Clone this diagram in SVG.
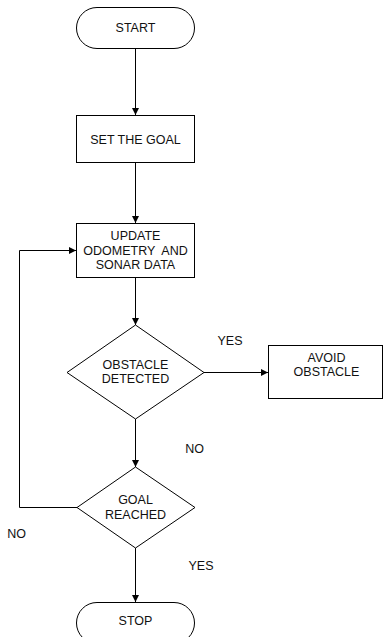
<svg xmlns="http://www.w3.org/2000/svg" width="383" height="637" viewBox="0 0 383 637">
<defs>
<marker id="arr" viewBox="0 0 10 10" refX="10" refY="5" markerWidth="8" markerHeight="7" markerUnits="userSpaceOnUse" orient="auto">
<path d="M0,0 L10,5 L0,10 Z" fill="#000"/>
</marker>
</defs>
<style>
.shape{fill:#fff;stroke:#000;stroke-width:1}
.line{fill:none;stroke:#000;stroke-width:1}
text{font-family:"Liberation Sans",Arial,sans-serif;font-size:12.5px;fill:#111;text-anchor:middle}
</style>
<rect width="383" height="637" fill="#fff"/>
<g id="connectors">
<line class="line" x1="135.5" y1="48.5" x2="135.5" y2="115" marker-end="url(#arr)"/>
<line class="line" x1="135.5" y1="163" x2="135.5" y2="223" marker-end="url(#arr)"/>
<line class="line" x1="135.5" y1="278" x2="135.5" y2="325" marker-end="url(#arr)"/>
<line class="line" x1="204" y1="372.5" x2="268" y2="372.5" marker-end="url(#arr)"/>
<line class="line" x1="135.5" y1="419" x2="135.5" y2="467" marker-end="url(#arr)"/>
<polyline class="line" points="77,507.5 19.5,507.5 19.5,250.5 76,250.5" marker-end="url(#arr)"/>
<line class="line" x1="135.5" y1="548" x2="135.5" y2="602" marker-end="url(#arr)"/>
<text x="230" y="345">YES</text>
<text x="194.5" y="453">NO</text>
<text x="16.5" y="538">NO</text>
<text x="201" y="570">YES</text>
</g>
<g id="start">
<rect class="shape" x="76.5" y="7.5" width="118" height="41" rx="20.5" ry="20.5"/>
<text x="135.5" y="32">START</text>
</g>
<g id="set-goal">
<rect class="shape" x="76.5" y="115.5" width="118" height="47"/>
<text x="135.5" y="143.5">SET THE GOAL</text>
</g>
<g id="update">
<rect class="shape" x="76.5" y="223.5" width="118" height="54"/>
<text x="135.5" y="240">UPDATE</text>
<text x="135.5" y="255" xml:space="preserve">ODOMETRY  AND</text>
<text x="135.5" y="269">SONAR DATA</text>
</g>
<g id="obstacle-detected">
<polygon class="shape" points="135.5,325 204,372.5 135.5,419 67,372.5"/>
<text x="135.5" y="369">OBSTACLE</text>
<text x="135.5" y="383">DETECTED</text>
</g>
<g id="avoid-obstacle">
<rect class="shape" x="268.5" y="345.5" width="114" height="53"/>
<text x="326.5" y="361.5">AVOID</text>
<text x="326.5" y="375.5">OBSTACLE</text>
</g>
<g id="goal-reached">
<polygon class="shape" points="135.5,467 195,507.5 135.5,548 77,507.5"/>
<text x="135.5" y="504">GOAL</text>
<text x="135.5" y="519">REACHED</text>
</g>
<g id="stop">
<rect class="shape" x="76.5" y="602.5" width="118" height="41" rx="20.5" ry="20.5"/>
<text x="135.5" y="625">STOP</text>
</g>
</svg>
